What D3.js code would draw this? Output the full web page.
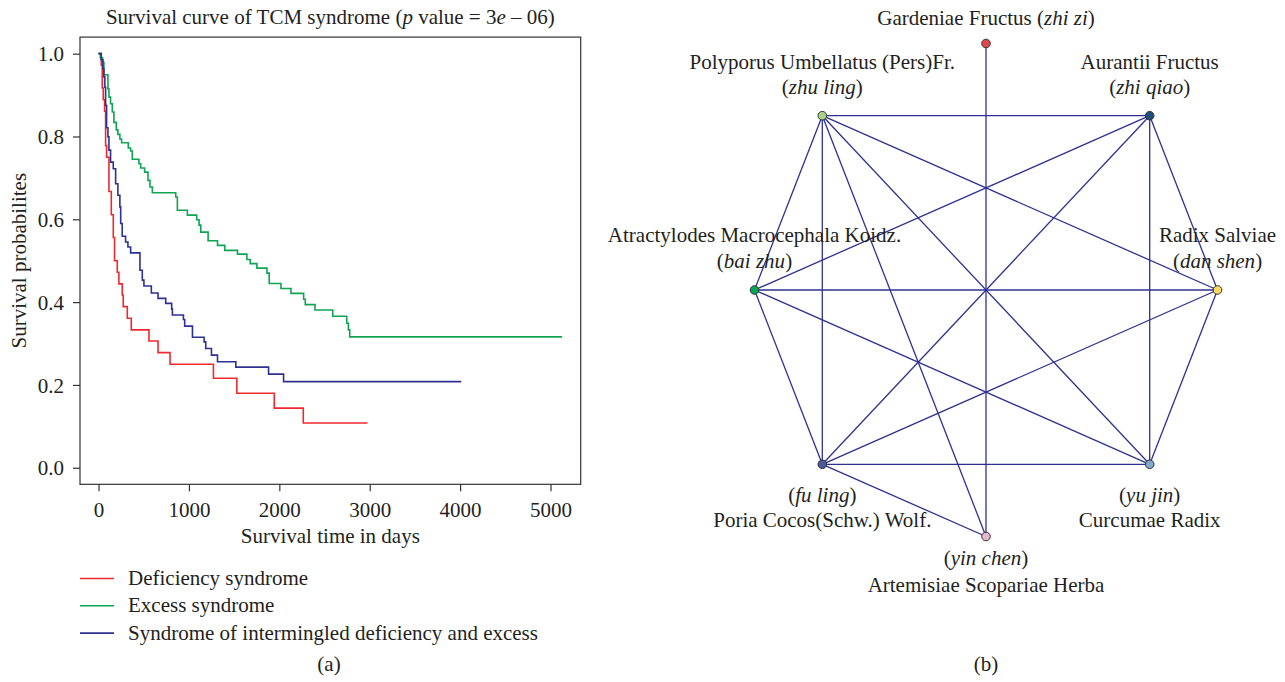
<!DOCTYPE html>
<html><head><meta charset="utf-8">
<script src="https://cdn.jsdelivr.net/npm/d3@7"></script>
<style>
body{margin:0;background:#fff}
text{font-family:"Liberation Serif","Times New Roman",serif;fill:#231f20}
</style>
</head><body>
<svg id="c" width="1285" height="682"></svg>
<script>
// ---------- Panel (a): Kaplan-Meier survival data [day, survival] ----------
const deficiency = [[0,1],[30,0.972],[41,0.917],[52,0.889],[67,0.861],[78,0.778],[89,0.75],[115,0.667],[141,0.611],[163,0.556],[177,0.5],[207,0.472],[225,0.444],[262,0.417],[273,0.389],[318,0.361],[362,0.333],[558,0.306],[658,0.278],[791,0.25],[1271,0.216],[1530,0.18],[1944,0.144],[2265,0.108],[2975,0.108]];
const excess = [[0,1],[20,0.99],[45,0.979],[59,0.949],[104,0.915],[115,0.895],[133,0.879],[152,0.859],[170,0.834],[196,0.816],[214,0.805],[236,0.794],[255,0.785],[329,0.772],[355,0.765],[373,0.745],[447,0.734],[466,0.724],[510,0.714],[547,0.694],[569,0.678],[595,0.664],[854,0.654],[872,0.622],[983,0.61],[1086,0.599],[1112,0.586],[1131,0.569],[1212,0.548],[1316,0.537],[1397,0.525],[1537,0.516],[1641,0.503],[1678,0.493],[1752,0.482],[1863,0.47],[1888,0.445],[2018,0.433],[2129,0.421],[2269,0.407],[2287,0.394],[2395,0.381],[2591,0.366],[2746,0.349],[2764,0.333],[2779,0.316],[5129,0.316]];
const intermingled = [[0,1],[30,0.985],[48,0.964],[59,0.944],[70,0.919],[78,0.875],[89,0.821],[104,0.799],[115,0.767],[133,0.738],[163,0.722],[189,0.686],[214,0.658],[236,0.63],[245,0.59],[262,0.559],[299,0.545],[325,0.533],[355,0.519],[458,0.477],[484,0.453],[502,0.439],[584,0.422],[658,0.409],[743,0.397],[809,0.383],[817,0.369],[939,0.358],[953,0.342],[1039,0.315],[1168,0.304],[1186,0.288],[1249,0.272],[1316,0.256],[1519,0.243],[1881,0.226],[2047,0.208],[4013,0.208]];
const seriesNames = ["Deficiency syndrome","Excess syndrome","Syndrome of intermingled deficiency and excess"];
const xTicks = [0,1000,2000,3000,4000,5000];
const yTicks = [0,0.2,0.4,0.6,0.8,1.0];
const xMax = 5129;

// ---------- Panel (b): herb co-occurrence network ----------
const herbNames = ["Gardeniae Fructus","Aurantii Fructus","Radix Salviae","Curcumae Radix","Artemisiae Scopariae Herba","Poria Cocos(Schw.) Wolf.","Atractylodes Macrocephala Koidz.","Polyporus Umbellatus (Pers)Fr."];
const herbPinyin = ["zhi zi","zhi qiao","dan shen","yu jin","yin chen","fu ling","bai zhu","zhu ling"];
const herbLinks = [[7,1],[6,2],[5,3],[7,5],[1,3],[7,6],[6,5],[1,2],[2,3],[7,2],[7,3],[1,5],[1,6],[6,3],[5,2],[7,4],[5,4],[0,4]];

// ---------- styles ----------
const seriesColors = ["#ee2a2e","#0ea553","#2e3192"];
const nodeColors = ["#e0474c","#1f4e79","#ffd966","#7fa8c9","#e6b9cf","#4b5a9c","#00a651","#a9d18e"];
const edgeColor = "#2e3192";
const FS = 21;

const svg = d3.select("#c");

// ===== Panel (a) =====
const x = d3.scaleLinear().domain([-0.04*xMax, 1.04*xMax]).range([80, 580.7]);
const y = d3.scaleLinear().domain([-0.04, 1.04]).range([484.3, 37.1]);

const ga = svg.append("g");
ga.append("rect").attr("x", x.range()[0]).attr("y", y.range()[1])
  .attr("width", x.range()[1]-x.range()[0]).attr("height", y.range()[0]-y.range()[1])
  .attr("fill","none").attr("stroke","#333").attr("stroke-width",1.2);

const xAxis = ga.append("g").attr("transform",`translate(0,${y.range()[0]})`)
  .call(d3.axisBottom(x).tickValues(xTicks).tickFormat(d3.format("d")).tickSize(7).tickPadding(11));
const yAxis = ga.append("g").attr("transform",`translate(${x.range()[0]},0)`)
  .call(d3.axisLeft(y).tickValues(yTicks).tickFormat(d3.format(".1f")).tickSize(7).tickPadding(9));
[xAxis,yAxis].forEach(a=>{
  a.select(".domain").remove();
  a.selectAll(".tick line").attr("stroke","#333").attr("stroke-width",1.2);
  a.selectAll(".tick text").attr("font-size",FS).attr("font-family","Liberation Serif").attr("fill","#231f20");
});
yAxis.selectAll(".tick text").attr("dy","0.34em");

const line = d3.line().x(d=>x(d[0])).y(d=>y(d[1])).curve(d3.curveStepAfter);
[deficiency, excess, intermingled].forEach((s,i)=>{
  ga.append("path").datum(s).attr("d",line).attr("fill","none")
    .attr("stroke",seriesColors[i]).attr("stroke-width",1.6);
});

// title
const title = ga.append("text").attr("x",(x.range()[0]+x.range()[1])/2).attr("y",24)
  .attr("text-anchor","middle").attr("font-size",FS);
title.append("tspan").text("Survival curve of TCM syndrome (");
title.append("tspan").attr("font-style","italic").text("p");
title.append("tspan").text(" value = 3");
title.append("tspan").attr("font-style","italic").text("e");
title.append("tspan").text(" \u2013 06)");

ga.append("text").attr("x",(x.range()[0]+x.range()[1])/2).attr("y",543)
  .attr("text-anchor","middle").attr("font-size",FS).text("Survival time in days");
ga.append("text").attr("transform",`translate(26,${(y.range()[0]+y.range()[1])/2}) rotate(-90)`)
  .attr("text-anchor","middle").attr("font-size",FS).text("Survival probabilites");

// legend
const leg = ga.append("g");
seriesNames.forEach((n,i)=>{
  const yy = 578.5 + i*27.3;
  leg.append("line").attr("x1",80).attr("x2",114).attr("y1",yy).attr("y2",yy)
    .attr("stroke",seriesColors[i]).attr("stroke-width",1.6);
  leg.append("text").attr("x",128).attr("y",yy+6.5).attr("font-size",FS).text(n);
});
ga.append("text").attr("x",329).attr("y",671).attr("text-anchor","middle").attr("font-size",FS).text("(a)");

// ===== Panel (b) =====
const nx = d3.scaleLinear().domain([-1,1]).range([986-231.5, 986+231.5]);
const ny = d3.scaleLinear().domain([-1,1]).range([290-246.5, 290+246.5]);
const nodes = herbNames.map((name,i)=>{
  const ang = -Math.PI/2 + i*Math.PI/4;
  return {name, py: herbPinyin[i], i, x: nx(Math.cos(ang)), y: ny(Math.sin(ang))};
});
const gb = svg.append("g");
gb.selectAll("line.e").data(herbLinks).join("line").attr("class","e")
  .attr("x1",d=>nodes[d[0]].x).attr("y1",d=>nodes[d[0]].y)
  .attr("x2",d=>nodes[d[1]].x).attr("y2",d=>nodes[d[1]].y)
  .attr("stroke",edgeColor).attr("stroke-width",1.3);
gb.selectAll("circle").data(nodes).join("circle")
  .attr("cx",d=>d.x).attr("cy",d=>d.y).attr("r",4.3)
  .attr("fill",(d,i)=>nodeColors[i]).attr("stroke","#333").attr("stroke-width",1);

function pinyinText(sel, py){
  sel.append("tspan").text("(");
  sel.append("tspan").attr("font-style","italic").text(py);
  sel.append("tspan").text(")");
}
nodes.forEach(n=>{
  const s = Math.sin(-Math.PI/2 + n.i*Math.PI/4);
  if (n.i===0){
    const t = gb.append("text").attr("x",n.x).attr("y",n.y-19).attr("text-anchor","middle").attr("font-size",FS);
    t.append("tspan").text(n.name+" ");
    pinyinText(t, n.py);
  } else if (s < 0.5){
    // labels above node: name then pinyin
    gb.append("text").attr("x",n.x).attr("y",n.y-(s<-0.1?47:48)).attr("text-anchor","middle").attr("font-size",FS).text(n.name);
    const t = gb.append("text").attr("x",n.x).attr("y",n.y-22).attr("text-anchor","middle").attr("font-size",FS);
    pinyinText(t, n.py);
  } else {
    // labels below node: pinyin then name
    const d1 = n.i===4 ? 28 : 38, d2 = n.i===4 ? 55 : 63;
    const t = gb.append("text").attr("x",n.x).attr("y",n.y+d1).attr("text-anchor","middle").attr("font-size",FS);
    pinyinText(t, n.py);
    gb.append("text").attr("x",n.x).attr("y",n.y+d2).attr("text-anchor","middle").attr("font-size",FS).text(n.name);
  }
});
gb.append("text").attr("x",986).attr("y",671).attr("text-anchor","middle").attr("font-size",FS).text("(b)");
</script>
</body></html>
